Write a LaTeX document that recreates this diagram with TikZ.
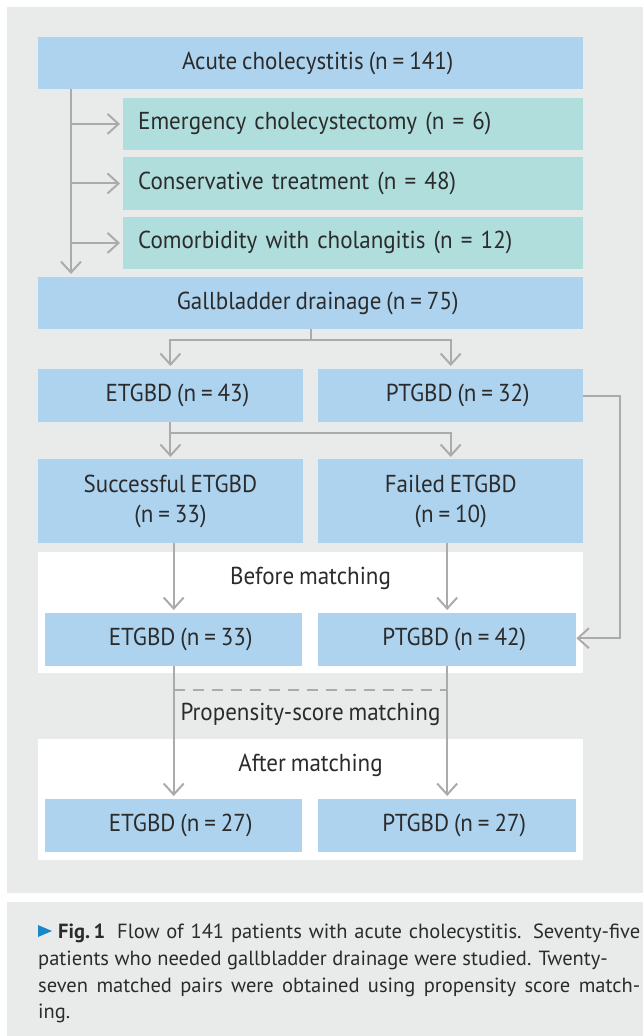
\documentclass[tikz,border=0pt]{standalone}
\usepackage{fontspec}
\setmainfont{PT Sans}
\newfontfamily\diagfont{PT Sans}[FakeStretch=0.94,WordSpace=0.8]
\newfontfamily\capfont{PT Sans}
\usetikzlibrary{arrows.meta,calc}
\definecolor{panelgray}{HTML}{E9EBEB}
\definecolor{boxblue}{HTML}{ADD3EF}
\definecolor{boxteal}{HTML}{B0DEDC}
\definecolor{linegray}{HTML}{ABABAE}
\definecolor{txt}{HTML}{2B2B2B}
\definecolor{capblue}{HTML}{1A87C9}
\begin{document}
\begin{tikzpicture}[x=1pt,y=-1pt,
  dfont/.style={font=\diagfont\fontsize{24.5}{30}\selectfont},
  bbox/.style={fill=boxblue, anchor=north west, inner sep=0pt, align=center, text=txt, dfont},
  offtext/.style={execute at begin node={\hspace*{14pt}}},
  gbox/.style={fill=boxteal, anchor=north west, inner ysep=0pt, inner xsep=15pt, text width=430pt, align=left, minimum height=52.5pt, text=txt, dfont},
  wbox/.style={fill=white, anchor=north west, inner sep=0pt},
  lbl/.style={text=txt, inner sep=0pt, dfont},
  conn/.style={draw=linegray, line width=2pt},
  arr/.style={conn, -{Straight Barb[length=11pt,width=20pt]}, shorten >=3pt},
  dashline/.style={conn, dash pattern=on 11pt off 8pt},
  capstyle/.style={text=txt, inner sep=0pt, anchor=base west, font=\capfont\fontsize{20.5}{27}\selectfont}
]
\useasboundingbox (0,0) rectangle (643,1036);
\fill[panelgray] (7,7) rectangle (643,893);
\fill[panelgray] (7,902) rectangle (643,1036);

% boxes
\node[bbox, offtext, minimum width=545pt, minimum height=52pt] (acute) at (38,37) {Acute cholecystitis (n = 141)};
\node[gbox] (emerg) at (123,97.5) {Emergency cholecystectomy (n = 6)};
\node[gbox] (cons) at (123,157) {Conservative treatment (n = 48)};
\node[gbox] (comor) at (123,216.5) {Comorbidity with cholangitis (n = 12)};
\node[bbox, offtext, minimum width=545pt, minimum height=52pt] (gall) at (38,277) {Gallbladder drainage (n = 75)};
\node[bbox, offtext, minimum width=264.5pt, minimum height=53pt] (e43) at (38,369) {ETGBD (n = 43)};
\node[bbox, offtext, minimum width=265pt, minimum height=53pt] (p32) at (318,369) {PTGBD (n = 32)};
\node[bbox, minimum width=264.5pt, minimum height=84pt] (succ) at (38,459) {Successful ETGBD\\(n = 33)};
\node[bbox, minimum width=265pt, minimum height=84pt] (fail) at (318,459) {Failed ETGBD\\(n = 10)};

\node[wbox, minimum width=545pt, minimum height=121pt] (before) at (38,552) {};
\node[lbl] (beforelbl) at (310.5,578) {Before matching};
\node[bbox, offtext, minimum width=257pt, minimum height=53pt] (e33) at (45,613) {ETGBD (n = 33)};
\node[bbox, offtext, minimum width=258pt, minimum height=53pt] (p42) at (318,613) {PTGBD (n = 42)};

\node[lbl] (psm) at (310.5,714) {Propensity-score matching};

\node[wbox, minimum width=545pt, minimum height=121pt] (after) at (38,739) {};
\node[lbl] (afterlbl) at (310.5,765) {After matching};
\node[bbox, offtext, minimum width=257pt, minimum height=53pt] (e27) at (45,799) {ETGBD (n = 27)};
\node[bbox, offtext, minimum width=258pt, minimum height=53pt] (p27) at (318,799) {PTGBD (n = 27)};

% connectors
\coordinate (vtop) at ($(acute.south west)+(33,0)$);
\draw[arr] (vtop) -- (vtop |- gall.north);
\foreach \n in {emerg,cons,comor} \draw[arr] (vtop |- \n.west) -- (\n.west);

\draw[arr] (gall.south) -- ++(0,11) -| (e43.north);
\draw[arr] (gall.south) -- ++(0,11) -| (p32.north);

\draw[arr, shorten >=2pt] (e43.south) -- ++(0,11) -| (fail.north);
\draw[arr, shorten >=2pt] (e43.south) -- (succ.north);

\draw[arr] (e33.north |- succ.south) -- (e33.north);
\draw[arr] (p42.north |- fail.south) -- (p42.north);
\draw[arr, shorten >=0pt] (p32.east) -- ++(37,0) |- ($(p42.east)+(0,-1.5)$);

\draw[arr] (e33.south) -- (e27.north);
\draw[arr] (p42.south) -- (p27.north);
\draw[dashline] ($(e33.south)+(0,24)$) -- ($(p42.south)+(0,24)$);

% caption
\fill[capblue] (38,925) -- (52,931) -- (38,937) -- cycle;
\node[capstyle] (figlbl) at (58,938) {\bfseries Fig.\,1};
\node[capstyle] (cap1) at (117,938) {\makebox[523pt][s]{Flow of 141 patients with acute cholecystitis. Seventy-five}};
\node[capstyle] (cap2) at (38,965) {patients who needed gallbladder drainage were studied. Twenty-};
\node[capstyle] (cap3) at (38,992) {\makebox[602pt][s]{seven matched pairs were obtained using propensity score match-}};
\node[capstyle] (cap4) at (38,1018) {ing.};
\end{tikzpicture}
\end{document}
